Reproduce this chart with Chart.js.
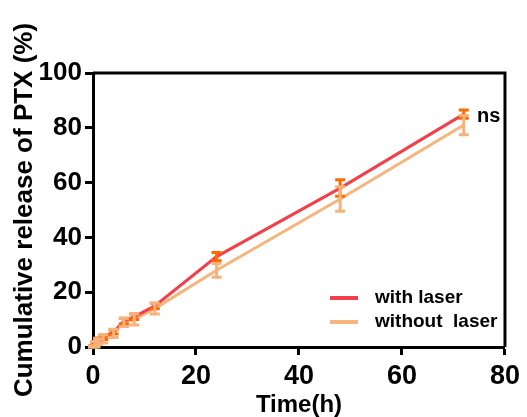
<!DOCTYPE html>
<html>
<head>
<meta charset="utf-8">
<script src="https://cdn.jsdelivr.net/npm/chart.js@4"></script>
<style>
    html, body { margin: 0; padding: 0; background: #ffffff; }
    #wrap { width: 527px; height: 417px; }
</style>
</head>
<body>
<div id="wrap"><canvas id="releaseChart" width="527" height="417"></canvas></div>
<script>
const times = [0, 0.5, 1, 2, 4, 6, 8, 12, 24, 48, 72];
const withLaser = [0, 1.5, 2.5, 3.5, 5.5, 9.5, 11, 15, 33, 58, 85];
const withLaserErr = [0.5, 0.5, 0.8, 0.8, 0.8, 1, 1, 1, 1.5, 3, 1.5];
const withoutLaser = [0, 1, 2, 3, 5, 9, 10, 14, 28, 54, 81];
const withoutLaserErr = [0.5, 1, 1, 1.5, 1.5, 1.5, 2, 2, 2.5, 4.5, 3.5];
const seriesNames = ["with laser", "without  laser"];
const xTicks = [0, 20, 40, 60, 80];
const yTicks = [0, 20, 40, 60, 80, 100];
const annotationText = "ns";

const palette = {
    red: "#f2404a",
    redErr: "#ff6a00",
    orange: "#f5b57c",
    orangeErr: "#f5b27a",
    black: "#000000",
};

const fontFamily = "'Liberation Sans', Arial, sans-serif";

function toPoints(xs, ys) {
    return xs.map((x, i) => ({ x: x, y: ys[i] }));
}

// error bars with caps
const errorBars = {
    id: "errorBars",
    afterDatasetsDraw(chart) {
        const ctx = chart.ctx;
        const xs = chart.scales.x;
        const ys = chart.scales.y;
        chart.data.datasets.forEach((ds) => {
            ctx.save();
            ctx.strokeStyle = ds.errColor;
            ctx.lineWidth = 3;
            ds.data.forEach((p, i) => {
                const e = ds.errors[i];
                const px = xs.getPixelForValue(p.x);
                const top = ys.getPixelForValue(p.y + e);
                const bot = ys.getPixelForValue(Math.max(0, p.y - e));
                ctx.beginPath();
                ctx.moveTo(px, top);
                ctx.lineTo(px, bot);
                ctx.moveTo(px - 5, top);
                ctx.lineTo(px + 5, top);
                ctx.moveTo(px - 5, bot);
                ctx.lineTo(px + 5, bot);
                ctx.stroke();
            });
            ctx.restore();
        });
    },
};

// frame on top/right, legend and "ns"
const extras = {
    id: "extras",
    afterDraw(chart) {
        const ctx = chart.ctx;
        const a = chart.chartArea;
        ctx.save();
        ctx.strokeStyle = palette.black;
        ctx.lineWidth = 3;
        ctx.beginPath();
        ctx.moveTo(a.left, a.top);
        ctx.lineTo(a.right, a.top);
        ctx.lineTo(a.right, a.bottom);
        ctx.stroke();

        ctx.font = "bold 19px " + fontFamily;
        ctx.textBaseline = "middle";
        ctx.fillStyle = palette.black;
        chart.data.datasets.forEach((ds, i) => {
            const y = 298 + i * 24;
            ctx.strokeStyle = ds.borderColor;
            ctx.lineWidth = 4;
            ctx.beginPath();
            ctx.moveTo(330, y);
            ctx.lineTo(358, y);
            ctx.stroke();
            ctx.fillText(ds.label, 375, y);
        });

        ctx.font = "bold 20px " + fontFamily;
        ctx.fillText(annotationText, 477, 116);
        ctx.restore();
    },
};

new Chart(document.getElementById("releaseChart"), {
    type: "line",
    data: {
        datasets: [
            {
                label: seriesNames[0],
                data: toPoints(times, withLaser),
                errors: withLaserErr,
                errColor: palette.redErr,
                borderColor: palette.red,
                borderWidth: 3,
                pointRadius: 0,
                fill: false,
                tension: 0,
            },
            {
                label: seriesNames[1],
                data: toPoints(times, withoutLaser),
                errors: withoutLaserErr,
                errColor: palette.orangeErr,
                borderColor: palette.orange,
                borderWidth: 3,
                pointRadius: 0,
                fill: false,
                tension: 0,
            },
        ],
    },
    options: {
        responsive: false,
        animation: false,
        layout: { padding: { top: 73, right: 20, left: 0, bottom: 0 } },
        plugins: {
            legend: { display: false },
            tooltip: { enabled: false },
        },
        scales: {
            x: {
                type: "linear",
                min: 0,
                max: 80,
                afterBuildTicks: (s) => { s.ticks = xTicks.map((v) => ({ value: v })); },
                afterFit: (s) => { s.height = 70; },
                border: { color: palette.black, width: 3 },
                grid: { drawOnChartArea: false, tickLength: 8, tickWidth: 3, tickColor: palette.black },
                ticks: {
                    color: palette.black,
                    padding: 7,
                    font: { family: fontFamily, size: 27, weight: "bold", lineHeight: 1.1 },
                    maxRotation: 0,
                },
                title: {
                    display: true,
                    text: "Time(h)",
                    color: palette.black,
                    padding: { top: 0, bottom: 0 },
                    font: { family: fontFamily, size: 24, weight: "bold", lineHeight: 1 },
                },
            },
            y: {
                min: 0,
                max: 100,
                afterBuildTicks: (s) => { s.ticks = yTicks.map((v) => ({ value: v })); },
                afterFit: (s) => { s.width = 93; },
                border: { color: palette.black, width: 3 },
                grid: { drawOnChartArea: false, tickLength: 8, tickWidth: 3, tickColor: palette.black },
                ticks: {
                    color: palette.black,
                    padding: 3,
                    font: { family: fontFamily, size: 26, weight: "bold" },
                },
                title: {
                    display: true,
                    text: "Cumulative release of PTX (%)",
                    color: palette.black,
                    padding: { top: 9, bottom: 0 },
                    font: { family: fontFamily, size: 26, weight: "bold" },
                },
            },
        },
    },
    plugins: [errorBars, extras],
});
</script>
</body>
</html>
